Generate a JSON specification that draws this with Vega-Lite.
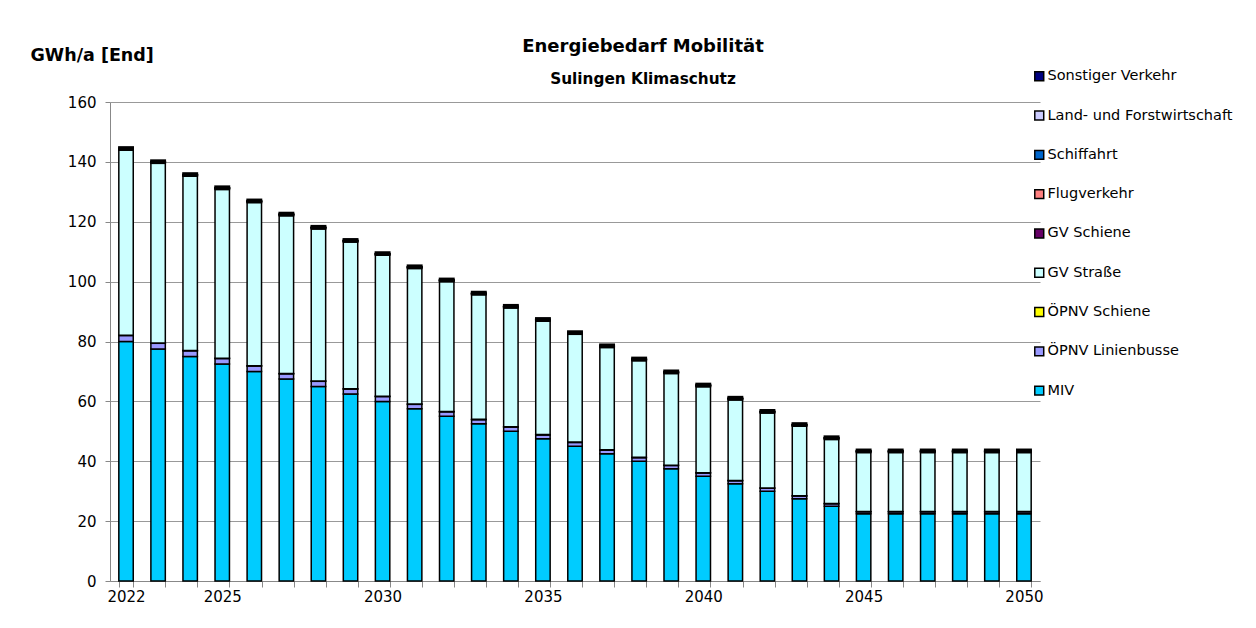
{
  "$schema": "https://vega.github.io/schema/vega-lite/v6.json",
  "autosize": "none",
  "width": 930,
  "height": 479,
  "padding": {"left": 110, "top": 102, "right": 216, "bottom": 47},
  "background": "white",
  "config": {
    "font": "DejaVu Sans",
    "view": {"stroke": null},
    "axis": {"labelFont": "DejaVu Sans", "labelFontSize": 15, "labelColor": "black", "domainColor": "#888", "tickColor": "#888", "gridColor": "#999"}
  },
  "title": {
    "text": "Energiebedarf Mobilität",
    "subtitle": "Sulingen Klimaschutz",
    "font": "DejaVu Sans",
    "fontSize": 18,
    "fontWeight": "bold",
    "subtitleFont": "DejaVu Sans",
    "subtitleFontSize": 15.3,
    "subtitleFontWeight": "bold",
    "subtitleColor": "black",
    "subtitlePadding": 16,
    "anchor": "middle",
    "dx": 68,
    "offset": -41
  },
  "datasets": {
    "reihenfolge": [
      {"Kategorie": "MIV", "i": 1},
      {"Kategorie": "ÖPNV Linienbusse", "i": 2},
      {"Kategorie": "ÖPNV Schiene", "i": 3},
      {"Kategorie": "GV Straße", "i": 4},
      {"Kategorie": "GV Schiene", "i": 5},
      {"Kategorie": "Flugverkehr", "i": 6},
      {"Kategorie": "Schiffahrt", "i": 7},
      {"Kategorie": "Land- und Forstwirtschaft", "i": 8},
      {"Kategorie": "Sonstiger Verkehr", "i": 9}
    ]
  },
  "data": {
    "values": [
      {"Jahr": 2022, "MIV": 80, "ÖPNV Linienbusse": 2.0, "ÖPNV Schiene": 0.1, "GV Straße": 61.8, "GV Schiene": 0.3, "Flugverkehr": 0.1, "Schiffahrt": 0.1, "Land- und Forstwirtschaft": 0.1, "Sonstiger Verkehr": 0.5},
      {"Jahr": 2023, "MIV": 77.5, "ÖPNV Linienbusse": 1.9, "ÖPNV Schiene": 0.1, "GV Straße": 60.0, "GV Schiene": 0.3, "Flugverkehr": 0.1, "Schiffahrt": 0.1, "Land- und Forstwirtschaft": 0.1, "Sonstiger Verkehr": 0.5},
      {"Jahr": 2024, "MIV": 75, "ÖPNV Linienbusse": 1.9, "ÖPNV Schiene": 0.1, "GV Straße": 58.2, "GV Schiene": 0.3, "Flugverkehr": 0.1, "Schiffahrt": 0.1, "Land- und Forstwirtschaft": 0.1, "Sonstiger Verkehr": 0.5},
      {"Jahr": 2025, "MIV": 72.5, "ÖPNV Linienbusse": 1.8, "ÖPNV Schiene": 0.1, "GV Straße": 56.4, "GV Schiene": 0.3, "Flugverkehr": 0.1, "Schiffahrt": 0.1, "Land- und Forstwirtschaft": 0.1, "Sonstiger Verkehr": 0.5},
      {"Jahr": 2026, "MIV": 70, "ÖPNV Linienbusse": 1.8, "ÖPNV Schiene": 0.1, "GV Straße": 54.5, "GV Schiene": 0.3, "Flugverkehr": 0.1, "Schiffahrt": 0.1, "Land- und Forstwirtschaft": 0.1, "Sonstiger Verkehr": 0.5},
      {"Jahr": 2027, "MIV": 67.5, "ÖPNV Linienbusse": 1.7, "ÖPNV Schiene": 0.1, "GV Straße": 52.7, "GV Schiene": 0.3, "Flugverkehr": 0.1, "Schiffahrt": 0.1, "Land- und Forstwirtschaft": 0.1, "Sonstiger Verkehr": 0.5},
      {"Jahr": 2028, "MIV": 65, "ÖPNV Linienbusse": 1.7, "ÖPNV Schiene": 0.1, "GV Straße": 50.8, "GV Schiene": 0.3, "Flugverkehr": 0.1, "Schiffahrt": 0.1, "Land- und Forstwirtschaft": 0.1, "Sonstiger Verkehr": 0.5},
      {"Jahr": 2029, "MIV": 62.5, "ÖPNV Linienbusse": 1.6, "ÖPNV Schiene": 0.1, "GV Straße": 49.0, "GV Schiene": 0.3, "Flugverkehr": 0.1, "Schiffahrt": 0.1, "Land- und Forstwirtschaft": 0.1, "Sonstiger Verkehr": 0.5},
      {"Jahr": 2030, "MIV": 60, "ÖPNV Linienbusse": 1.6, "ÖPNV Schiene": 0.1, "GV Straße": 47.1, "GV Schiene": 0.3, "Flugverkehr": 0.1, "Schiffahrt": 0.1, "Land- und Forstwirtschaft": 0.1, "Sonstiger Verkehr": 0.5},
      {"Jahr": 2031, "MIV": 57.5, "ÖPNV Linienbusse": 1.5, "ÖPNV Schiene": 0.1, "GV Straße": 45.3, "GV Schiene": 0.3, "Flugverkehr": 0.1, "Schiffahrt": 0.1, "Land- und Forstwirtschaft": 0.1, "Sonstiger Verkehr": 0.5},
      {"Jahr": 2032, "MIV": 55, "ÖPNV Linienbusse": 1.5, "ÖPNV Schiene": 0.1, "GV Straße": 43.4, "GV Schiene": 0.3, "Flugverkehr": 0.1, "Schiffahrt": 0.1, "Land- und Forstwirtschaft": 0.1, "Sonstiger Verkehr": 0.5},
      {"Jahr": 2033, "MIV": 52.5, "ÖPNV Linienbusse": 1.4, "ÖPNV Schiene": 0.1, "GV Straße": 41.6, "GV Schiene": 0.3, "Flugverkehr": 0.1, "Schiffahrt": 0.1, "Land- und Forstwirtschaft": 0.1, "Sonstiger Verkehr": 0.5},
      {"Jahr": 2034, "MIV": 50, "ÖPNV Linienbusse": 1.4, "ÖPNV Schiene": 0.1, "GV Straße": 39.7, "GV Schiene": 0.3, "Flugverkehr": 0.1, "Schiffahrt": 0.1, "Land- und Forstwirtschaft": 0.1, "Sonstiger Verkehr": 0.5},
      {"Jahr": 2035, "MIV": 47.5, "ÖPNV Linienbusse": 1.3, "ÖPNV Schiene": 0.1, "GV Straße": 37.9, "GV Schiene": 0.3, "Flugverkehr": 0.1, "Schiffahrt": 0.1, "Land- und Forstwirtschaft": 0.1, "Sonstiger Verkehr": 0.5},
      {"Jahr": 2036, "MIV": 45, "ÖPNV Linienbusse": 1.3, "ÖPNV Schiene": 0.1, "GV Straße": 36.0, "GV Schiene": 0.3, "Flugverkehr": 0.1, "Schiffahrt": 0.1, "Land- und Forstwirtschaft": 0.1, "Sonstiger Verkehr": 0.5},
      {"Jahr": 2037, "MIV": 42.5, "ÖPNV Linienbusse": 1.2, "ÖPNV Schiene": 0.1, "GV Straße": 34.2, "GV Schiene": 0.3, "Flugverkehr": 0.1, "Schiffahrt": 0.1, "Land- und Forstwirtschaft": 0.1, "Sonstiger Verkehr": 0.5},
      {"Jahr": 2038, "MIV": 40, "ÖPNV Linienbusse": 1.2, "ÖPNV Schiene": 0.1, "GV Straße": 32.3, "GV Schiene": 0.3, "Flugverkehr": 0.1, "Schiffahrt": 0.1, "Land- und Forstwirtschaft": 0.1, "Sonstiger Verkehr": 0.5},
      {"Jahr": 2039, "MIV": 37.5, "ÖPNV Linienbusse": 1.1, "ÖPNV Schiene": 0.1, "GV Straße": 30.6, "GV Schiene": 0.3, "Flugverkehr": 0.1, "Schiffahrt": 0.1, "Land- und Forstwirtschaft": 0.1, "Sonstiger Verkehr": 0.5},
      {"Jahr": 2040, "MIV": 35, "ÖPNV Linienbusse": 1.1, "ÖPNV Schiene": 0.1, "GV Straße": 28.7, "GV Schiene": 0.3, "Flugverkehr": 0.1, "Schiffahrt": 0.1, "Land- und Forstwirtschaft": 0.1, "Sonstiger Verkehr": 0.5},
      {"Jahr": 2041, "MIV": 32.5, "ÖPNV Linienbusse": 1.0, "ÖPNV Schiene": 0.1, "GV Straße": 26.9, "GV Schiene": 0.3, "Flugverkehr": 0.1, "Schiffahrt": 0.1, "Land- und Forstwirtschaft": 0.1, "Sonstiger Verkehr": 0.5},
      {"Jahr": 2042, "MIV": 30, "ÖPNV Linienbusse": 1.0, "ÖPNV Schiene": 0.1, "GV Straße": 25.0, "GV Schiene": 0.3, "Flugverkehr": 0.1, "Schiffahrt": 0.1, "Land- und Forstwirtschaft": 0.1, "Sonstiger Verkehr": 0.5},
      {"Jahr": 2043, "MIV": 27.5, "ÖPNV Linienbusse": 0.9, "ÖPNV Schiene": 0.1, "GV Straße": 23.2, "GV Schiene": 0.3, "Flugverkehr": 0.1, "Schiffahrt": 0.1, "Land- und Forstwirtschaft": 0.1, "Sonstiger Verkehr": 0.5},
      {"Jahr": 2044, "MIV": 25, "ÖPNV Linienbusse": 0.8, "ÖPNV Schiene": 0.1, "GV Straße": 21.4, "GV Schiene": 0.3, "Flugverkehr": 0.1, "Schiffahrt": 0.1, "Land- und Forstwirtschaft": 0.1, "Sonstiger Verkehr": 0.5},
      {"Jahr": 2045, "MIV": 22.5, "ÖPNV Linienbusse": 0.6, "ÖPNV Schiene": 0.1, "GV Straße": 19.7, "GV Schiene": 0.3, "Flugverkehr": 0.1, "Schiffahrt": 0.1, "Land- und Forstwirtschaft": 0.1, "Sonstiger Verkehr": 0.5},
      {"Jahr": 2046, "MIV": 22.5, "ÖPNV Linienbusse": 0.6, "ÖPNV Schiene": 0.1, "GV Straße": 19.7, "GV Schiene": 0.3, "Flugverkehr": 0.1, "Schiffahrt": 0.1, "Land- und Forstwirtschaft": 0.1, "Sonstiger Verkehr": 0.5},
      {"Jahr": 2047, "MIV": 22.5, "ÖPNV Linienbusse": 0.6, "ÖPNV Schiene": 0.1, "GV Straße": 19.7, "GV Schiene": 0.3, "Flugverkehr": 0.1, "Schiffahrt": 0.1, "Land- und Forstwirtschaft": 0.1, "Sonstiger Verkehr": 0.5},
      {"Jahr": 2048, "MIV": 22.5, "ÖPNV Linienbusse": 0.6, "ÖPNV Schiene": 0.1, "GV Straße": 19.7, "GV Schiene": 0.3, "Flugverkehr": 0.1, "Schiffahrt": 0.1, "Land- und Forstwirtschaft": 0.1, "Sonstiger Verkehr": 0.5},
      {"Jahr": 2049, "MIV": 22.5, "ÖPNV Linienbusse": 0.6, "ÖPNV Schiene": 0.1, "GV Straße": 19.7, "GV Schiene": 0.3, "Flugverkehr": 0.1, "Schiffahrt": 0.1, "Land- und Forstwirtschaft": 0.1, "Sonstiger Verkehr": 0.5},
      {"Jahr": 2050, "MIV": 22.5, "ÖPNV Linienbusse": 0.6, "ÖPNV Schiene": 0.1, "GV Straße": 19.7, "GV Schiene": 0.3, "Flugverkehr": 0.1, "Schiffahrt": 0.1, "Land- und Forstwirtschaft": 0.1, "Sonstiger Verkehr": 0.5}
    ]
  },
  "transform": [
    {"fold": ["MIV", "ÖPNV Linienbusse", "ÖPNV Schiene", "GV Straße", "GV Schiene", "Flugverkehr", "Schiffahrt", "Land- und Forstwirtschaft", "Sonstiger Verkehr"], "as": ["Kategorie", "Wert"]},
    {"lookup": "Kategorie", "from": {"data": {"name": "reihenfolge"}, "key": "Kategorie", "fields": ["i"]}}
  ],
  "mark": {"type": "bar", "stroke": "black", "strokeWidth": 1.5},
  "encoding": {
    "x": {
      "field": "Jahr",
      "type": "ordinal",
      "scale": {"paddingInner": 0.55, "paddingOuter": 0.275},
      "axis": {
        "title": null,
        "labelAngle": 0,
        "tickBand": "extent",
        "tickSize": 6,
        "labelPadding": 2,
        "grid": false,
        "labelExpr": "(datum.value == 2022 || datum.value % 5 == 0) ? datum.label : ''"
      }
    },
    "y": {
      "field": "Wert",
      "type": "quantitative",
      "stack": "zero",
      "scale": {"domain": [0, 160], "nice": false},
      "axis": {
        "values": [0, 20, 40, 60, 80, 100, 120, 140, 160],
        "title": "GWh/a [End]",
        "titleAngle": 0,
        "titleAlign": "left",
        "titleBaseline": "middle",
        "titleX": -80,
        "titleY": -47,
        "titleFont": "DejaVu Sans",
        "titleFontSize": 17.5,
        "titleFontWeight": "bold",
        "titleColor": "black",
        "tickSize": 5,
        "labelPadding": 9,
        "grid": true
      }
    },
    "color": {
      "field": "Kategorie",
      "type": "nominal",
      "scale": {
        "domain": ["Sonstiger Verkehr", "Land- und Forstwirtschaft", "Schiffahrt", "Flugverkehr", "GV Schiene", "GV Straße", "ÖPNV Schiene", "ÖPNV Linienbusse", "MIV"],
        "range": ["#000080", "#CCCCFF", "#0066CC", "#FF8080", "#660066", "#CCFFFF", "#FFFF00", "#9999FF", "#00CCFF"]
      },
      "legend": {
        "title": null,
        "orient": "none",
        "legendX": 922,
        "legendY": -33,
        "symbolType": "square",
        "symbolSize": 80,
        "symbolStrokeColor": "black",
        "symbolStrokeWidth": 1.5,
        "symbolOpacity": 1,
        "labelFont": "DejaVu Sans",
        "labelFontSize": 14.5,
        "labelColor": "black",
        "labelOffset": 1,
        "rowPadding": 23.3,
        "labelLimit": 300
      }
    },
    "order": {"field": "i", "type": "quantitative", "sort": "ascending"}
  }
}
